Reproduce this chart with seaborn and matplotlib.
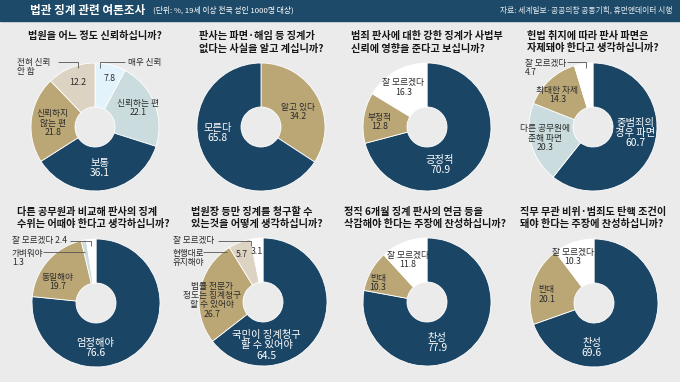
import numpy as np
import matplotlib
matplotlib.use("Agg")
import matplotlib.pyplot as plt
import seaborn as sns

sns.set_theme(style="white")
plt.rcParams["font.family"] = ["Noto Sans CJK KR", "DejaVu Sans"]

W, H = 680, 382

# ---------------- data ----------------
header_title = "법관 징계 관련 여론조사"
header_note = "(단위: %, 19세 이상 전국 성인 1000명 대상)"
header_source = "자료: 세계일보·공공의창 공동기획, 휴먼앤데이터 시행"

q1_title = "법원을 어느 정도 신뢰하십니까?"
q1_labels = ["매우 신뢰", "신뢰하는 편", "보통", "신뢰하지\n않는 편", "전혀 신뢰\n안 함"]
q1_values = [7.8, 22.1, 36.1, 21.8, 12.2]

q2_title = "판사는 파면·해임 등 징계가\n없다는 사실을 알고 계십니까?"
q2_labels = ["알고 있다", "모른다"]
q2_values = [34.2, 65.8]

q3_title = "범죄 판사에 대한 강한 징계가 사법부\n신뢰에 영향을 준다고 보십니까?"
q3_labels = ["긍정적", "부정적", "잘 모르겠다"]
q3_values = [70.9, 12.8, 16.3]

q4_title = "헌법 취지에 따라 판사 파면은\n자제돼야 한다고 생각하십니까?"
q4_labels = ["중범죄의\n경우 파면", "다른 공무원에\n준해 파면", "최대한 자제", "잘 모르겠다"]
q4_values = [60.7, 20.3, 14.3, 4.7]

q5_title = "다른 공무원과 비교해 판사의 징계\n수위는 어때야 한다고 생각하십니까?"
q5_labels = ["엄정해야", "동일해야", "가벼워야", "잘 모르겠다"]
q5_values = [76.6, 19.7, 1.3, 2.4]

q6_title = "법원장 등만 징계를 청구할 수\n있는것을 어떻게 생각하십니까?"
q6_labels = ["국민이 징계청구\n할 수 있어야", "법률 전문가\n정도는 징계청구\n할 수 있어야", "현행대로\n유지해야", "잘 모르겠다"]
q6_values = [64.5, 26.7, 5.7, 3.1]

q7_title = "정직 6개월 징계 판사의 연금 등을\n삭감해야 한다는 주장에 찬성하십니까?"
q7_labels = ["찬성", "반대", "잘 모르겠다"]
q7_values = [77.9, 10.3, 11.8]

q8_title = "직무 무관 비위·범죄도 탄핵 조건이\n돼야 한다는 주장에 찬성하십니까?"
q8_labels = ["찬성", "반대", "잘 모르겠다"]
q8_values = [69.6, 20.1, 10.3]

# ---------------- style ----------------
BG = "#ebebec"
HEADER = "#1e4a69"
NAVY = "#1b4565"
TAN = "#bba776"
TEAL = "#cadcdd"
BEIGE = "#ddd3c2"
SKY = "#e3f3fb"
WHITE = "#ffffff"
DARK = "#2b2b2b"
pal = sns.color_palette([NAVY, TAN, TEAL, BEIGE, SKY, WHITE])

R, RIN = 64, 20

# layout: (mode, r-factor, angle) ; 'in' = name+value inside, 'val' = value inside & name outside,
# 'out' = name+value outside.  outside: (dx, dy, sep, leader points)
charts = [
    dict(title=q1_title, labels=q1_labels, values=q1_values, colors=[SKY, TEAL, NAVY, TAN, BEIGE],
         c=(95, 127), tc=(95, 31),
         lay=[("val", .80, 73, (33, 65), [(5, 59), (5, 65), (30, 65)]),
              ("in", .74, 24), ("in", .65, -83), ("in", .66, 175),
              ("val", .75, 111, (-78, 60), [(-37, 65), (-17, 65), (-17, 59)])]),
    dict(title=q2_title, labels=q2_labels, values=q2_values, colors=[TAN, NAVY],
         c=(261, 127), tc=(261, 31),
         lay=[("in", .62, 22), ("in", .69, 188)]),
    dict(title=q3_title, labels=q3_labels, values=q3_values, colors=[NAVY, TAN, WHITE],
         c=(427, 127), tc=(427, 31),
         lay=[("in", .63, -71), ("in", .74, 174), ("in", .72, 121)]),
    dict(title=q4_title, labels=q4_labels, values=q4_values, colors=[NAVY, TEAL, TAN, WHITE],
         c=(593, 127), tc=(593, 31),
         lay=[("in", .67, -8), ("in", .77, 193), ("in", .75, 138),
              ("out", 0, 0, (-68, 59), [(-26, 65), (-7, 65), (-7, 59)], "\n")]),
    dict(title=q5_title, labels=q5_labels, values=q5_values, colors=[NAVY, TAN, TEAL, WHITE],
         c=(96, 303), tc=(93, 207),
         lay=[("in", .70, -91), ("in", .68, 151),
              ("out", 0, 0, (-84, 45), [(-53, 51), (-11, 51)], "\n"),
              ("out", 0, 0, (-84, 62), [(-26, 62), (-5, 62), (-5, 57)], " ")]),
    dict(title=q6_title, labels=q6_labels, values=q6_values, colors=[NAVY, TAN, BEIGE, WHITE],
         c=(263, 302), tc=(257, 207),
         lay=[("in", .68, -85), ("in", .80, 178),
              ("val", .82, 114, (-90, 44), [(-60, 50), (-36, 50)]),
              ("val", .80, 97, (-90, 61), [(-45, 61), (-12, 61), (-12, 56)])]),
    dict(title=q7_title, labels=q7_labels, values=q7_values, colors=[NAVY, TAN, WHITE],
         c=(427, 302), tc=(425, 207),
         lay=[("in", .66, -76), ("in", .82, 159), ("in", .72, 115)]),
    dict(title=q8_title, labels=q8_labels, values=q8_values, colors=[NAVY, TAN, WHITE],
         c=(594, 303), tc=(593, 207),
         lay=[("in", .70, -93), ("in", .75, 170), ("in", .79, 115)]),
]

fig = plt.figure(figsize=(W / 100, H / 100), dpi=100)
fig.patch.set_facecolor(BG)
ax = fig.add_axes([0, 0, 1, 1])
ax.set_facecolor(BG)

for ch in charts:
    cx, cy = ch["c"]
    ax.pie(ch["values"], colors=ch["colors"], startangle=90, counterclock=False,
           radius=R, center=(cx, H - cy),
           wedgeprops=dict(width=R - RIN, edgecolor="white", linewidth=0.6))
    tx, ty = ch["tc"]
    ax.text(tx, H - ty, ch["title"], ha="center", va="top", multialignment="left",
            fontsize=7.3, fontweight="bold", color="#161616", linespacing=1.3)
    for lab, val, col, lay in zip(ch["labels"], ch["values"], ch["colors"], ch["lay"]):
        mode = lay[0]
        tcol = "white" if col == NAVY else DARK
        big = col == NAVY
        fs = 7.4 if big else 6.3
        if mode in ("in", "val"):
            a = np.deg2rad(lay[2])
            px = cx + R * lay[1] * np.cos(a)
            py = (H - cy) + R * lay[1] * np.sin(a)
            s = f"{lab}\n{val}" if mode == "in" else f"{val}"
            ax.text(px, py, s, ha="center", va="center", fontsize=fs, color=tcol,
                    linespacing=1.05, multialignment="center")
        if mode in ("val", "out"):
            dx, dy = lay[3]
            s = lab if mode == "val" else f"{lab}{lay[5]}{val}"
            ax.text(cx + dx, (H - cy) + dy, s, ha="left", va="center", fontsize=6.2,
                    color=DARK, linespacing=1.05)
            pts = np.array(lay[4], dtype=float)
            ax.plot(cx + pts[:, 0], (H - cy) + pts[:, 1], color="#555555", lw=0.6,
                    solid_capstyle="butt")

# header
ax.axhspan(H - 21, H, color=HEADER, zorder=0)
ax.text(30, H - 10.5, header_title, ha="left", va="center", fontsize=8.4,
        fontweight="bold", color="white")
ax.text(153, H - 10.5, header_note, ha="left", va="center", fontsize=5.6, color="white")
ax.text(672, H - 10.5, header_source, ha="right", va="center", fontsize=5.6, color="#e6ecf0")

ax.set_xlim(0, W)
ax.set_ylim(0, H)
ax.set_aspect("auto")
ax.axis("off")

fig.savefig("out.png", dpi=100, facecolor=BG)
